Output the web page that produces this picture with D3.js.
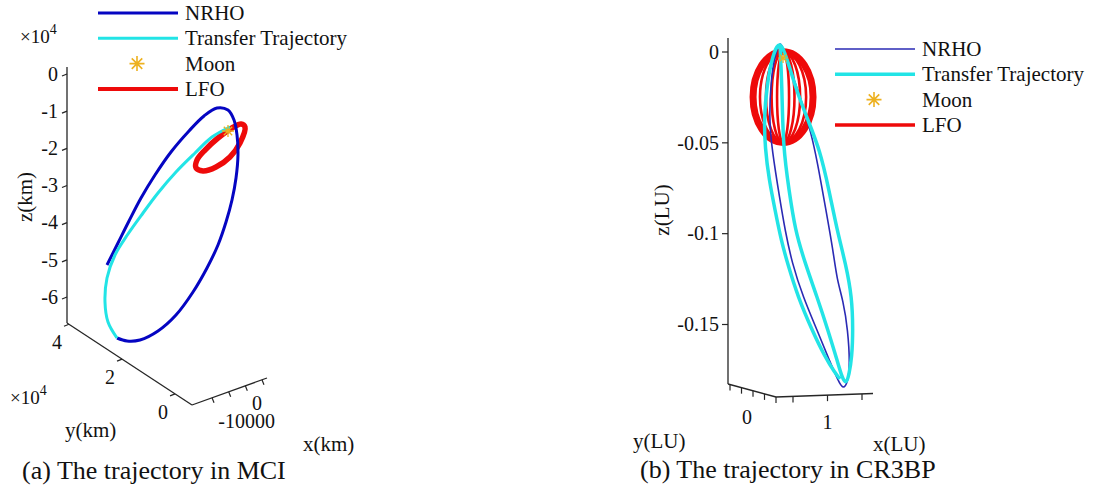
<!DOCTYPE html>
<html lang="en">
<head>
<meta charset="UTF-8">
<title>Transfer trajectory from NRHO to LFO</title>
<script src="https://d3js.org/d3.v7.min.js"></script>
<style>
  body { margin: 0; background: #fff; }
  #chart { display: block; font-family: "Liberation Serif", "Times New Roman", serif; }
</style>
</head>
<body>
<svg id="chart" width="1099" height="493"></svg>
<script>
// (a) MCI frame, projected onto the page: [horizontal, z], both in 1e4 km
var nrhoMCI = [[1.076,-5.139],[1.372,-4.547],[1.668,-3.955],[1.991,-3.336],[2.367,-2.717],[2.798,-2.098],
  [3.282,-1.533],[3.686,-1.130],[4.035,-0.915],[4.331,-0.969],[4.493,-1.238],[4.574,-1.641],[4.600,-2.179],
  [4.547,-2.798],[4.439,-3.390],[4.278,-3.982],[4.062,-4.600],[3.766,-5.219],[3.390,-5.865],[2.932,-6.484],
  [2.448,-6.914],[1.964,-7.156],[1.614,-7.183],[1.345,-7.103]];
var transferMCI = [[1.345,-7.103],[1.103,-6.672],[1.022,-6.134],[1.076,-5.488],[1.291,-4.870],[1.641,-4.305],
  [2.045,-3.740],[2.448,-3.202],[2.932,-2.637],[3.444,-2.125],[3.901,-1.695],[4.385,-1.426]];
var lfoMCI = [[4.789,-1.426],[4.654,-1.856],[4.385,-2.233],[4.009,-2.502],[3.659,-2.610],[3.471,-2.529],
  [3.497,-2.314],[3.713,-2.045],[4.062,-1.722],[4.439,-1.453],[4.681,-1.345]];
var moonMCI = [4.331, -1.533];

// (b) CR3BP frame, projected: [horizontal, z] in LU
var nrhoCR3BP = [[0.0281,0.0050],[0.0253,-0.0044],[0.0237,-0.0154],[0.0226,-0.0363],[0.0242,-0.0539],
  [0.0286,-0.0815],[0.0314,-0.0980],[0.0352,-0.1161],[0.0413,-0.1348],[0.0490,-0.1530],[0.0561,-0.1706],
  [0.0605,-0.1805],[0.0633,-0.1860],[0.0660,-0.1816],[0.0671,-0.1723],[0.0660,-0.1530],[0.0633,-0.1365],
  [0.0600,-0.1255],[0.0578,-0.1090],[0.0539,-0.0870],[0.0490,-0.0594],[0.0457,-0.0446],[0.0413,-0.0292],
  [0.0341,-0.0088],[0.0297,0.0045]];
var transferCR3BP = [[0.0286,0.0045],[0.0297,-0.0182],[0.0303,-0.0528],[0.0336,-0.0760],[0.0369,-0.0980],
  [0.0424,-0.1161],[0.0490,-0.1348],[0.0550,-0.1530],[0.0605,-0.1712],[0.0627,-0.1789],[0.0649,-0.1830],
  [0.0666,-0.1778],[0.0682,-0.1679],[0.0688,-0.1530],[0.0682,-0.1348],[0.0649,-0.1172],[0.0600,-0.0980],
  [0.0556,-0.0760],[0.0506,-0.0539],[0.0435,-0.0363],[0.0380,-0.0220],[0.0330,-0.0055],[0.0297,0.0040],
  [0.0270,0.0045],[0.0237,-0.0055],[0.0215,-0.0182],[0.0198,-0.0363],[0.0204,-0.0528],[0.0226,-0.0704],
  [0.0259,-0.0870],[0.0292,-0.1035],[0.0330,-0.1172],[0.0385,-0.1348],[0.0462,-0.1530],[0.0534,-0.1679],
  [0.0589,-0.1767],[0.0616,-0.1800]];
var lfoCenterCR3BP = [0.0303, -0.0248];
var lfoHalfHeightCR3BP = 0.0250;
var lfoHalfWidthsCR3BP = [0.0165, 0.0127, 0.0094, 0.0063, 0.0033];
var moonCR3BP = [0.0303, -0.0033];

// axis ticks
var zTicksMCI = [0, -1, -2, -3, -4, -5, -6];
var yTicksMCI = [4, 2, 0];
var xTicksMCI = [-15000, -10000, -5000, 0];
var xLabelsMCI = [-10000, 0];
var zTicksCR3BP = [0, -0.05, -0.1, -0.15];
var zLabelsCR3BP = ["0", "-0.05", "-0.1", "-0.15"];
var yTicksCR3BP = [-0.04, -0.02, 0, 0.02, 0.04];
var xTicksCR3BP = [0.5, 1, 1.5];

var legendNames = ["NRHO", "Transfer Trajectory", "Moon", "LFO"];

var colors = {nrho: "#0505c2", nrhoThin: "#2a2ab4", transfer: "#22e4e6", moon: "#edb120", lfo: "#ee0a0a"};
var axisColor = "#262626";

var svg = d3.select("#chart");
svg.append("rect").attr("width", 1099).attr("height", 493).attr("fill", "#fff");

// draws a straight axis between two page points, value -> point by linear scales
function axis3d(g, p0, p1, domain, ticks, tick) {
  var sx = d3.scaleLinear().domain(domain).range([p0[0], p1[0]]);
  var sy = d3.scaleLinear().domain(domain).range([p0[1], p1[1]]);
  g.append("line").attr("x1", p0[0]).attr("y1", p0[1]).attr("x2", p1[0]).attr("y2", p1[1])
    .attr("stroke", axisColor).attr("stroke-width", 1.3);
  g.selectAll(null).data(ticks).enter().append("line")
    .attr("x1", d => sx(d)).attr("y1", d => sy(d))
    .attr("x2", d => sx(d) + tick[0]).attr("y2", d => sy(d) + tick[1])
    .attr("stroke", axisColor).attr("stroke-width", 1.2);
  return {x: sx, y: sy};
}

function star(g, cx, cy, r, w) {
  var d = r * 0.7;
  g.append("path")
    .attr("d", `M${cx - r},${cy}H${cx + r}M${cx},${cy - r}V${cy + r}M${cx - d},${cy - d}L${cx + d},${cy + d}M${cx - d},${cy + d}L${cx + d},${cy - d}`)
    .attr("stroke", colors.moon).attr("stroke-width", w).attr("fill", "none");
}

function legend(g, x0, y0, styles) {
  legendNames.forEach(function(name, i) {
    var y = y0 + i * 25.3;
    var s = styles[i];
    if (s.star) star(g, x0 + 39, y, 7.5, 1.6);
    else g.append("line").attr("x1", x0).attr("x2", x0 + 80).attr("y1", y).attr("y2", y)
      .attr("stroke", s.color).attr("stroke-width", s.width);
    g.append("text").attr("x", x0 + 87).attr("y", y).attr("dy", "0.33em")
      .attr("font-size", 21).attr("fill", "#111").text(name);
  });
}

function sci(g, x, y) {
  var t = g.append("text").attr("x", x).attr("y", y).attr("font-size", 19).attr("fill", "#111").text("\u00d710");
  t.append("tspan").attr("dy", -9).attr("font-size", 14).text("4");
}

// ---------- (a) MCI ----------
var ga = svg.append("g");
var uA = d3.scaleLinear().domain([0, 1]).range([67, 104.17]);
var zA = d3.scaleLinear().domain([0, -6]).range([74, 297]);

var zAx = axis3d(ga, [67, zA(0.19)], [67, zA(-6.7)], [0.19, -6.7], zTicksMCI, [-5, 2]);
ga.selectAll(null).data(zTicksMCI).enter().append("text")
  .attr("x", 58).attr("y", d => zAx.y(d)).attr("dy", "0.34em").attr("text-anchor", "end")
  .attr("font-size", 20).attr("fill", "#111").text(d => d);

var yAx = axis3d(ga, [67, 323], [192, 405], [4.075, -0.64], yTicksMCI, [-5, 2]);
ga.selectAll(null).data(yTicksMCI).enter().append("text")
  .attr("x", d => yAx.x(d) - 12).attr("y", d => yAx.y(d) + 18).attr("dy", "0.34em").attr("text-anchor", "middle")
  .attr("font-size", 20).attr("fill", "#111").text(d => d);

var xAx = axis3d(ga, [192, 405], [267, 378], [-21014, 1509], xTicksMCI, [2, 5]);
var xLabOff = [[18, 29], [-5, 23]];
ga.selectAll(null).data(xLabelsMCI).enter().append("text")
  .attr("x", (d, i) => xAx.x(d) + xLabOff[i][0]).attr("y", (d, i) => xAx.y(d) + xLabOff[i][1])
  .attr("dy", "0.34em").attr("text-anchor", "middle")
  .attr("font-size", 20).attr("fill", "#111").text(d => d);

sci(ga, 20, 43);
sci(ga, 10, 404);
ga.append("text").attr("transform", "translate(32,197) rotate(-90)").attr("text-anchor", "middle")
  .attr("font-size", 21).attr("fill", "#111").text("z(km)");
ga.append("text").attr("x", 65).attr("y", 437).attr("font-size", 21).attr("fill", "#111").text("y(km)");
ga.append("text").attr("x", 303).attr("y", 451).attr("font-size", 21).attr("fill", "#111").text("x(km)");

var lineA = d3.line().x(d => uA(d[0])).y(d => zA(d[1])).curve(d3.curveCatmullRom);
ga.append("path").datum(lfoMCI)
  .attr("d", d3.line().x(d => uA(d[0])).y(d => zA(d[1])).curve(d3.curveCatmullRomClosed))
  .attr("fill", "none").attr("stroke", colors.lfo).attr("stroke-width", 5.5);
ga.append("path").datum(nrhoMCI).attr("d", lineA)
  .attr("fill", "none").attr("stroke", colors.nrho).attr("stroke-width", 3);
ga.append("path").datum(transferMCI).attr("d", lineA)
  .attr("fill", "none").attr("stroke", colors.transfer).attr("stroke-width", 3);
star(ga, uA(moonMCI[0]), zA(moonMCI[1]), 6, 1.3);

legend(ga, 98, 13, [
  {color: colors.nrho, width: 3}, {color: colors.transfer, width: 3},
  {star: true}, {color: colors.lfo, width: 4}]);

ga.append("text").attr("x", 22).attr("y", 479).attr("font-size", 26).attr("fill", "#111")
  .text("(a) The trajectory in MCI");

// ---------- (b) CR3BP ----------
var gb = svg.append("g");
var uB = d3.scaleLinear().domain([0, 0.05]).range([728, 818.85]);
var zB = d3.scaleLinear().domain([0, -0.15]).range([52, 324.5]);

var zBx = axis3d(gb, [728, zB(0.0077)], [728, zB(-0.1827)], [0.0077, -0.1827], zTicksCR3BP, [-6, 0]);
gb.selectAll(null).data(zTicksCR3BP).enter().append("text")
  .attr("x", 719).attr("y", d => zBx.y(d)).attr("dy", "0.34em").attr("text-anchor", "end")
  .attr("font-size", 20).attr("fill", "#111").text((d, i) => zLabelsCR3BP[i]);

var yBx = axis3d(gb, [728, 384], [776, 397], [-0.0435, 0.04], yTicksCR3BP, [0, 6]);
gb.append("text").attr("x", yBx.x(0) - 6).attr("y", yBx.y(0) + 26).attr("dy", "0.34em")
  .attr("text-anchor", "middle").attr("font-size", 20).attr("fill", "#111").text("0");

var xBx = axis3d(gb, [776, 397], [873, 393.5], [0.2536, 1.6594], xTicksCR3BP, [0, 6]);
gb.append("text").attr("x", xBx.x(1)).attr("y", xBx.y(1) + 27).attr("dy", "0.34em")
  .attr("text-anchor", "middle").attr("font-size", 20).attr("fill", "#111").text("1");

gb.append("text").attr("transform", "translate(669,210) rotate(-90)").attr("text-anchor", "middle")
  .attr("font-size", 21).attr("fill", "#111").text("z(LU)");
gb.append("text").attr("x", 633).attr("y", 448).attr("font-size", 21).attr("fill", "#111").text("y(LU)");
gb.append("text").attr("x", 873).attr("y", 451).attr("font-size", 21).attr("fill", "#111").text("x(LU)");

gb.selectAll(null).data(lfoHalfWidthsCR3BP).enter().append("ellipse")
  .attr("cx", uB(lfoCenterCR3BP[0])).attr("cy", zB(lfoCenterCR3BP[1]))
  .attr("rx", d => uB(d) - uB(0)).attr("ry", zB(-lfoHalfHeightCR3BP) - zB(0))
  .attr("fill", "none").attr("stroke", colors.lfo).attr("stroke-width", (d, i) => i ? 2.6 : 7);

// B-spline smooths the hand-read points of the long, narrow loops
gb.append("path").datum(nrhoCR3BP)
  .attr("d", d3.line().x(d => uB(d[0])).y(d => zB(d[1])).curve(d3.curveBasisClosed))
  .attr("fill", "none").attr("stroke", colors.nrhoThin).attr("stroke-width", 1.6);
gb.append("path").datum(transferCR3BP)
  .attr("d", d3.line().x(d => uB(d[0])).y(d => zB(d[1])).curve(d3.curveBasis))
  .attr("fill", "none").attr("stroke", colors.transfer).attr("stroke-width", 3.5);
star(gb, uB(moonCR3BP[0]), zB(moonCR3BP[1]), 5, 1.2);

legend(gb, 835, 49, [
  {color: colors.nrhoThin, width: 1.6}, {color: colors.transfer, width: 3.5},
  {star: true}, {color: colors.lfo, width: 3.5}]);

gb.append("text").attr("x", 640).attr("y", 478).attr("font-size", 26).attr("fill", "#111")
  .text("(b) The trajectory in CR3BP");
</script>
</body>
</html>
